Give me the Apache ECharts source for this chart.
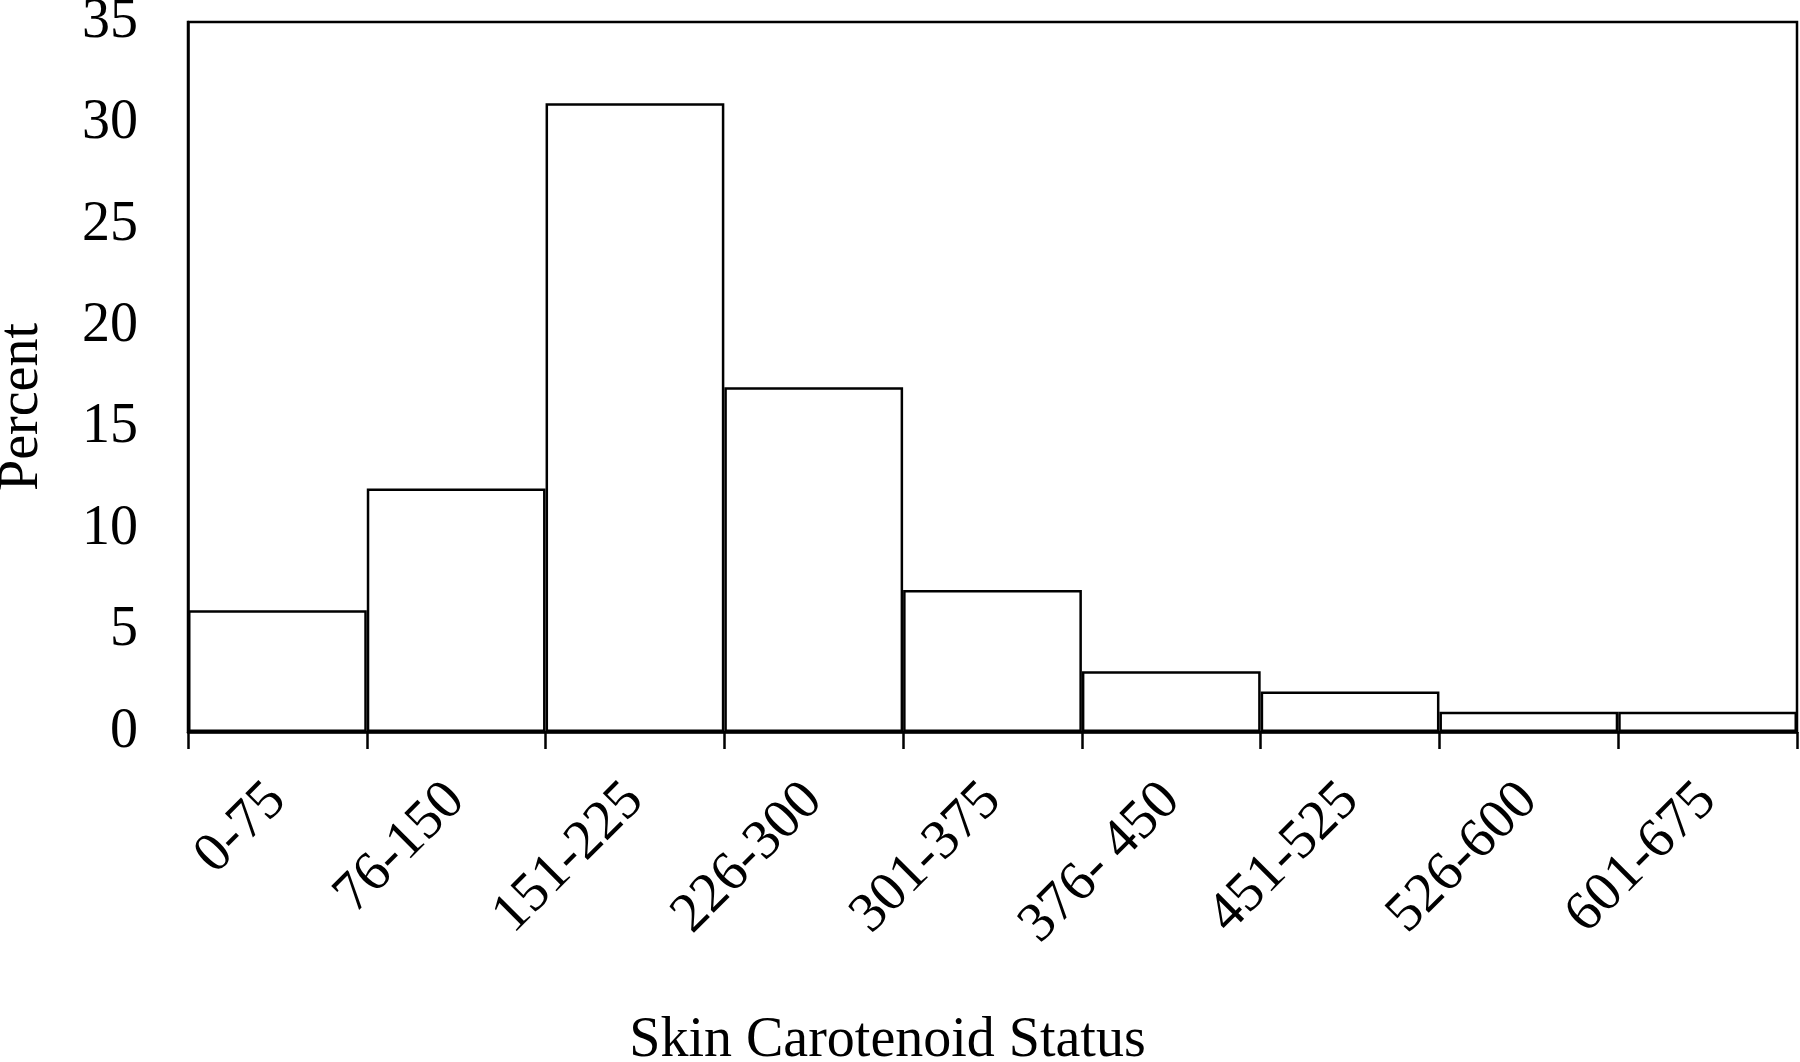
<!DOCTYPE html>
<html>
<head>
<meta charset="utf-8">
<script src="https://cdn.jsdelivr.net/npm/echarts@6/dist/echarts.min.js"></script>
<style>
  html, body { margin: 0; padding: 0; background: #fff; }
  #chart { width: 1800px; height: 1062px; }
</style>
</head>
<body>
<div id="chart"></div>
<script>
  // skin carotenoid bins and percent of participants in each
  const categories = ['0-75', '76-150', '151-225', '226-300', '301-375', '376- 450', '451-525', '526-600', '601-675']
  const percents = [6, 12, 31, 17, 7, 3, 2, 1, 1]
  const yTicks = { min: 0, max: 35, interval: 5 }

  const font = 'Liberation Serif, Times New Roman, serif'
  const chart = echarts.init(document.getElementById('chart'), null, { renderer: 'canvas' })

  const option = {
    backgroundColor: '#fff',
    animation: false,
    grid: {
      left: 188,
      right: 3,
      top: 22,
      bottom: 330,
      containLabel: false,
      outerBoundsMode: 'none',
      show: true,
      borderColor: '#000',
      borderWidth: 2.5,
      backgroundColor: 'transparent'
    },
    xAxis: {
      type: 'category',
      data: categories,
      boundaryGap: true,
      name: 'Skin Carotenoid Status',
      nameLocation: 'middle',
      nameGap: 281,
      nameTextStyle: { fontFamily: font, fontSize: 56, color: '#000', padding: [0, 210, 0, 0] },
      axisLine: { lineStyle: { color: '#000', width: 2.5 } },
      axisTick: { show: true, length: 17, interval: 0, lineStyle: { color: '#000', width: 2.5 } },
      axisLabel: { interval: 0, rotate: 45, margin: 60, fontFamily: font, fontSize: 56, color: '#000' },
      splitLine: { show: false }
    },
    yAxis: {
      type: 'value',
      min: yTicks.min,
      max: yTicks.max,
      interval: yTicks.interval,
      name: 'Percent',
      nameLocation: 'middle',
      nameGap: 138,
      nameTextStyle: { fontFamily: font, fontSize: 56, color: '#000', padding: [0, 60, 0, 0] },
      axisLine: { show: true, lineStyle: { color: '#000', width: 2.5 } },
      axisTick: { show: false },
      axisLabel: { margin: 50, fontFamily: font, fontSize: 56, color: '#000' },
      splitLine: { show: false }
    },
    series: [
      {
        type: 'bar',
        data: percents,
        barCategoryGap: 0,
        itemStyle: { color: '#fff', borderColor: '#000', borderWidth: 2.5 }
      }
    ]
  }

  chart.setOption(option)
</script>
</body>
</html>
